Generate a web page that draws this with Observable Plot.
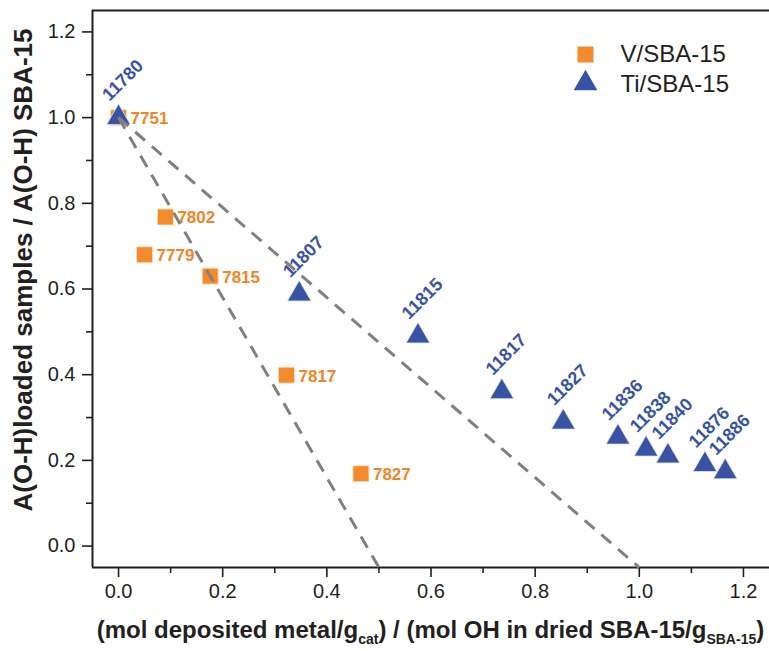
<!DOCTYPE html>
<html><head><meta charset="utf-8">
<script src="https://cdn.jsdelivr.net/npm/d3@7"></script>
<script src="https://cdn.jsdelivr.net/npm/@observablehq/plot@0.6"></script>
<style>body{margin:0;background:#fff}</style>
</head><body><div id="chart"></div>
<script>
// ---- data ----
const vLabels = ["7751", "7802", "7779", "7815", "7817", "7827"];
const vX = [0.0, 0.09, 0.05, 0.176, 0.3225, 0.4655];
const vY = [1.0, 0.768, 0.68, 0.63, 0.399, 0.169];

const tiLabels = ["11780", "11807", "11815", "11817", "11827", "11836", "11838", "11840", "11876", "11886"];
const tiX = [0.0, 0.347, 0.575, 0.736, 0.854, 0.959, 1.013, 1.055, 1.126, 1.165];
const tiY = [1.0, 0.588, 0.49, 0.36, 0.289, 0.254, 0.226, 0.21, 0.19, 0.173];

// dashed guide lines (start -> end)
const guideX1 = [0.0, 0.0];
const guideY1 = [1.0, 1.0];
const guideX2 = [0.5, 1.0];
const guideY2 = [-0.05, -0.05];

const seriesNames = ["V/SBA-15", "Ti/SBA-15"];
const majorTicks = [0.0, 0.2, 0.4, 0.6, 0.8, 1.0, 1.2];
const minorTicks = [0.1, 0.3, 0.5, 0.7, 0.9, 1.1];
const xTitleParts = ["(mol deposited metal/g", "cat", ") / (mol OH in dried SBA-15/g", "SBA-15", ")"];
const yTitle = "A(O-H)loaded samples / A(O-H) SBA-15";

// ---- build tables ----
const vData = vLabels.map((l, i) => ({label: l, x: vX[i], y: vY[i]}));
const tiData = tiLabels.map((l, i) => ({label: l, x: tiX[i], y: tiY[i]}));
const guides = guideX1.map((d, i) => ({x1: guideX1[i], y1: guideY1[i], x2: guideX2[i], y2: guideY2[i]}));

const ORANGE = "#f58a2b";
const ORANGE_TXT = "#f08527";
const BLUE = "#3953a4";
const INK = "#231f20";
const W = 769, H = 651, ML = 92, MT = 10, MB = 84, MR = 0;
const dom = [-0.05, 1.25];

const chart = Plot.plot({
  width: W, height: H,
  marginLeft: ML, marginRight: MR, marginTop: MT, marginBottom: MB,
  x: {domain: dom, axis: null},
  y: {domain: dom, axis: null},
  style: {fontFamily: "Liberation Sans, Arial, sans-serif", color: INK, background: "white", overflow: "visible"},
  marks: [
    // axes
    Plot.axisX(majorTicks, {tickSize: 10, tickPadding: 6, fontSize: 20, tickFormat: d3.format(".1f"), label: null, strokeWidth: 1.6}),
    Plot.axisX(minorTicks, {tickSize: 6, fill: "none", label: null, strokeWidth: 1.6}),
    Plot.axisY(majorTicks, {tickSize: 10, tickPadding: 7, fontSize: 20, tickFormat: d3.format(".1f"), label: null, strokeWidth: 1.6}),
    Plot.axisY(minorTicks, {tickSize: 6, fill: "none", label: null, strokeWidth: 1.6}),
    Plot.ruleX([dom[0]], {stroke: INK, strokeWidth: 2}),
    Plot.ruleY([dom[0], dom[1]], {stroke: INK, strokeWidth: 2}),
    // markers
    Plot.dot(vData, {x: "x", y: "y", symbol: "square", r: 9, fill: ORANGE, stroke: "#fde3cc", strokeWidth: 0.8}),
    Plot.dot(tiData, {x: "x", y: "y", symbol: "triangle", r: 8.8, fill: BLUE, stroke: "#dfe3f2", strokeWidth: 0.8}),
    // labels
    Plot.text(vData, {x: "x", y: "y", text: "label", textAnchor: "start", dx: 12, dy: 1, fill: ORANGE_TXT, fontWeight: "bold", fontSize: 17}),
    Plot.text(tiData, {x: "x", y: "y", text: "label", textAnchor: "start", rotate: -45, dx: -13, dy: -20, fill: BLUE, fontWeight: "bold", fontSize: 18}),
    // dashed guides
    Plot.link(guides, {x1: "x1", y1: "y1", x2: "x2", y2: "y2", stroke: "#808080", strokeWidth: 3, strokeDasharray: "13,9"}),
    // legend
    Plot.dot([seriesNames[0]], {frameAnchor: "top-left", dx: 493, dy: 44, symbol: "square", r: 9, fill: ORANGE}),
    Plot.dot([seriesNames[1]], {frameAnchor: "top-left", dx: 493, dy: 73, symbol: "triangle", r: 8.8, fill: BLUE}),
    Plot.text([seriesNames[0]], {frameAnchor: "top-left", lineAnchor: "middle", dx: 528, dy: 44, text: d => d, textAnchor: "start", fontSize: 24, fill: INK}),
    Plot.text([seriesNames[1]], {frameAnchor: "top-left", lineAnchor: "middle", dx: 528, dy: 74, text: d => d, textAnchor: "start", fontSize: 24, fill: INK})
  ]
});

const svg = d3.select(chart);
// x title with subscripts
const xl = svg.append("text")
  .attr("x", (ML + W - MR) / 2).attr("y", H - 13)
  .attr("text-anchor", "middle").attr("font-weight", "bold").attr("font-size", 24).attr("fill", INK);
xTitleParts.forEach((p, i) => {
  const t = xl.append("tspan").text(p);
  if (i % 2 === 1) t.attr("font-size", 14).attr("dy", 6);
  else if (i > 0) t.attr("dy", -6);
});
// y title
svg.append("text")
  .attr("transform", `translate(32,270) rotate(-90)`)
  .attr("text-anchor", "middle").attr("font-weight", "bold").attr("font-size", 26).attr("fill", INK)
  .text(yTitle);

document.getElementById("chart").append(chart);
</script>
</body></html>
